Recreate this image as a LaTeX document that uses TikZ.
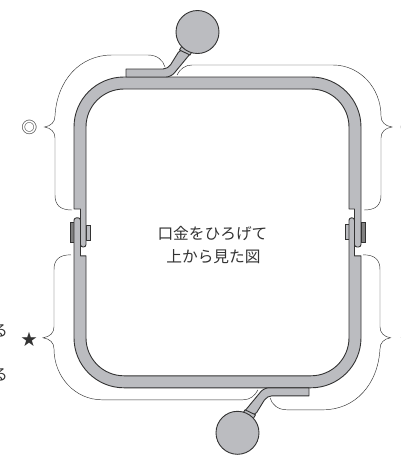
\documentclass[tikz,border=0pt]{standalone}
\usepackage{fontspec}
\newfontfamily\cjk{Noto Sans CJK JP}
\definecolor{metal}{HTML}{BBBCC0}
\definecolor{ink}{HTML}{333333}
\tikzset{
    metalpart/.style={draw=ink, fill=metal, line width=0.9pt, line join=round},
    platepart/.style={draw=ink, fill=gray, line width=0.9pt},
    bracket/.style={draw=ink, line width=0.45pt},
    caption/.style={font=\cjk\fontsize{15.7}{18}\selectfont, text=ink, inner sep=0pt},
    mark sign/.style={font=\cjk\fontsize{16}{16}\selectfont, text=ink, inner sep=0pt}
}
\begin{document}
\begin{tikzpicture}[x=1pt, y=-1pt]
    \useasboundingbox (0,0) rectangle (401,459);

    \foreach \turn in {0,180} {
    \begin{scope}[rotate around={\turn:(217.5,232.4)}]
        \draw[bracket] (72,210) .. controls (60,210) and (55,205) .. (55,195) -- (55,138)
            .. controls (55,132) and (51,128) .. (44.5,127)
            .. controls (51,126) and (55,122) .. (55,116)
            .. controls (57,80) and (80,55) .. (112,55) -- (148,55)
            .. controls (157,55) and (163,60) .. (165,67);
        \draw[bracket] (177,75) .. controls (180,69) and (185,65) .. (192,65) -- (333,65)
            .. controls (360,65) and (381,88) .. (381,116)
            .. controls (381,122) and (385,126) .. (392,127)
            .. controls (385,128) and (381,132) .. (381,138) -- (381,195)
            .. controls (381,205) and (376,210) .. (364,210);

        \draw[platepart] (70,222) rectangle (74,242);
        \draw[platepart, fill=metal] (86,225) rectangle (90,240);

        \draw[metalpart] (80.5,209) -- (74,209) [rounded corners=50pt] -- (74,77) -- (361,77)
            [rounded corners=2.5pt] -- (361,247) -- (354.5,247) [sharp corners] -- (354.5,209)
            -- (349,209) [rounded corners=38pt] -- (349,89) -- (86,89)
            [rounded corners=2.5pt] -- (86,247) -- (80.5,247) [sharp corners] -- cycle;

        \draw[metalpart] (126,77) -- (126,69) [rounded corners=5pt] -- (168,69) -- (181,48)
            [sharp corners] -- (190,54) [rounded corners=5pt] -- (171,77) [sharp corners] -- cycle;
        \draw[metalpart] (179.5,50) -- (183,44) -- (193,50) -- (190,55) -- cycle;
        \draw[metalpart] (197.5,32) circle (21.5);
    \end{scope}
    }

    \node[caption] (line one) at (212.5,233) {口金をひろげて};
    \node[caption] (line two) at (213.5,256.5) {上から見た図};

    \node[mark sign] (ring left) at (29.3,127) {◎};
    \node[mark sign] (ring right) at (408,127) {◎};
    \node[mark sign] (star left) at (29,339) {★};
    \node[mark sign] (star right) at (408,339) {★};

    \node[caption, anchor=east] (word one) at (8,331) {る};
    \node[caption, anchor=east] (word two) at (8,375) {る};
\end{tikzpicture}
\end{document}
